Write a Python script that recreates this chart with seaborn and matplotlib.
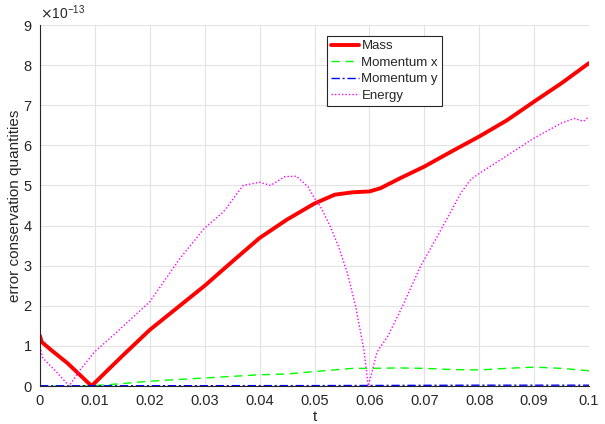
import matplotlib
matplotlib.use("Agg")
import matplotlib.pyplot as plt
import seaborn as sns
import pandas as pd

# values in units of 1e-13
mass_t = [0, 0.0003, 0.002, 0.005, 0.0094, 0.012, 0.015, 0.02, 0.025, 0.03, 0.035, 0.04, 0.045,
          0.05, 0.0537, 0.057, 0.06, 0.062, 0.0656, 0.07, 0.075, 0.08, 0.085, 0.09, 0.095, 0.1]
mass = [1.25, 1.1, 0.9, 0.57, 0.0, 0.35, 0.75, 1.4, 1.95, 2.5, 3.1, 3.69, 4.15,
        4.55, 4.77, 4.83, 4.85, 4.93, 5.18, 5.47, 5.85, 6.22, 6.62, 7.09, 7.55, 8.05]

energy_t = [0, 0.0005, 0.003, 0.0053, 0.0073, 0.01, 0.0134, 0.0164, 0.02, 0.0256, 0.03, 0.0334,
            0.037, 0.04, 0.042, 0.0446, 0.0467, 0.0488, 0.05, 0.0511, 0.0529, 0.0544, 0.056,
            0.0575, 0.059, 0.0598, 0.0614, 0.0633, 0.066, 0.0693, 0.072, 0.0747, 0.0766,
            0.0784, 0.08, 0.0839, 0.09, 0.0949, 0.0973, 0.099, 0.1]
energy = [0.98, 0.7, 0.35, 0.0, 0.4, 0.86, 1.27, 1.65, 2.1, 3.2, 3.94, 4.34,
          5.0, 5.08, 5.0, 5.22, 5.23, 4.97, 4.68, 4.47, 3.97, 3.47, 2.81,
          1.98, 0.9, 0.0, 0.85, 1.23, 1.98, 2.98, 3.64, 4.31, 4.8,
          5.14, 5.3, 5.64, 6.18, 6.55, 6.67, 6.6, 6.72]

momx_t = [0, 0.005, 0.009, 0.015, 0.02, 0.025, 0.03, 0.035, 0.04, 0.045, 0.05, 0.057, 0.06,
          0.0655, 0.07, 0.075, 0.08, 0.085, 0.09, 0.095, 0.1]
momx = [0.0, 0.0, 0.0, 0.06, 0.12, 0.16, 0.2, 0.24, 0.28, 0.3, 0.36, 0.44, 0.44,
        0.45, 0.44, 0.41, 0.4, 0.44, 0.47, 0.44, 0.38]

momy_t = [0, 0.05, 0.08, 0.1]
momy = [0.005, 0.01, 0.02, 0.02]

xticks = [0, 0.01, 0.02, 0.03, 0.04, 0.05, 0.06, 0.07, 0.08, 0.09, 0.1]
xtick_labels = ["0", "0.01", "0.02", "0.03", "0.04", "0.05", "0.06", "0.07", "0.08", "0.09", "0.1"]
yticks = [0, 1, 2, 3, 4, 5, 6, 7, 8, 9]

sns.set_style("white")
plt.rcParams['font.family'] = ['Liberation Sans', 'DejaVu Sans']

fig = plt.figure(figsize=(6.05, 4.24), dpi=100)
ax = fig.add_axes([40/605, 1-386/424, 549/605, 361/424])

dark = "#262626"
series = [
    ("Mass", mass_t, mass, "#ff0000", "-", 2.8),
    ("Momentum x", momx_t, momx, "#00ff00", (0, (6, 4)), 1.0),
    ("Momentum y", momy_t, momy, "#0000ff", (0, (6, 2, 1.5, 2)), 1.0),
    ("Energy", energy_t, energy, "#ff00ff", (0, (1, 1.5)), 1.0),
]
for name, t, v, c, ls, lw in series:
    df = pd.DataFrame({"t": t, "v": v})
    sns.lineplot(data=df, x="t", y="v", ax=ax, color=c, linestyle=ls, linewidth=lw,
                 label=name, estimator=None, sort=False)

ax.set_xlim(0, 0.1)
ax.set_ylim(0, 9)
ax.set_xticks(xticks)
ax.set_xticklabels(xtick_labels)
ax.set_yticks(yticks)
ax.grid(True, color="#e3e3e3", linewidth=0.8)
ax.set_axisbelow(True)
for s in ["top", "right"]:
    ax.spines[s].set_visible(False)
for s in ["left", "bottom"]:
    ax.spines[s].set_color(dark)
    ax.spines[s].set_linewidth(0.8)
ax.tick_params(direction="in", length=3, width=0.8, colors=dark, labelsize=10.5, pad=6)
ax.set_xlabel("t", fontsize=11, color=dark, labelpad=1.5)
ax.set_ylabel("error conservation quantities", fontsize=11, color=dark, labelpad=1)
ax.text(0.0, 1.008, r"$\times\mathregular{10^{-13}}$", transform=ax.transAxes,
        fontsize=10, color=dark, ha="left", va="bottom")

leg = ax.legend(loc="upper left", bbox_to_anchor=(0.523, 0.9695), fontsize=9.5,
                frameon=True, fancybox=False, framealpha=1, edgecolor=dark,
                handlelength=2.1, borderpad=0.3, labelspacing=0.33, handletextpad=0.2,
                borderaxespad=0)
leg.get_frame().set_linewidth(0.8)

fig.savefig("out.png", dpi=100)
